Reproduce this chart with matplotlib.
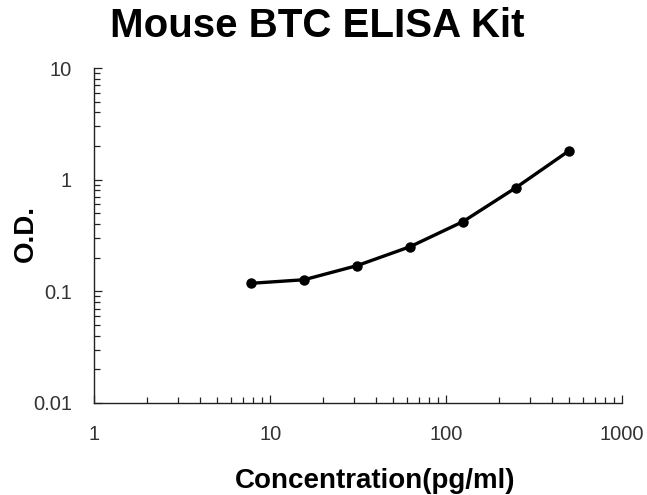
import matplotlib
matplotlib.use("Agg")
import matplotlib.pyplot as plt
from matplotlib.ticker import LogLocator, FixedLocator, FixedFormatter, NullFormatter

# standard curve
conc = [7.8, 15.6, 31.25, 62.5, 125, 250, 500]
od = [0.118, 0.127, 0.170, 0.251, 0.421, 0.848, 1.81]

x_ticks = [1, 10, 100, 1000]
x_labels = ["1", "10", "100", "1000"]
y_ticks = [0.01, 0.1, 1, 10]
y_labels = ["0.01", "0.1", "1", "10"]

plt.rcParams['font.family'] = ['Liberation Sans', 'DejaVu Sans']

fig = plt.figure(figsize=(6.47, 4.95), dpi=100)
ax = fig.add_axes([0.1458, 0.1859, 0.8152, 0.6767])

ax.plot(conc, od, color='black', linewidth=2.4, marker='o', markersize=6.5,
        solid_capstyle='round')

ax.set_xscale('log')
ax.set_yscale('log')
ax.set_xlim(1, 1000)
ax.set_ylim(0.01, 10)

ax.xaxis.set_major_locator(FixedLocator(x_ticks))
ax.xaxis.set_major_formatter(FixedFormatter(x_labels))
ax.yaxis.set_major_locator(FixedLocator(y_ticks))
ax.yaxis.set_major_formatter(FixedFormatter(y_labels))
ax.xaxis.set_minor_locator(LogLocator(base=10, subs=range(2, 10)))
ax.yaxis.set_minor_locator(LogLocator(base=10, subs=range(2, 10)))
ax.xaxis.set_minor_formatter(NullFormatter())
ax.yaxis.set_minor_formatter(NullFormatter())

for side in ['top', 'right']:
    ax.spines[side].set_visible(False)
for side in ['left', 'bottom']:
    ax.spines[side].set_linewidth(1.0)
    ax.spines[side].set_color('#222222')

ax.tick_params(axis='both', which='major', direction='in', length=6, width=0.9,
               labelsize=14.5, labelcolor='#333333', color='#222222')
ax.tick_params(axis='both', which='minor', direction='in', length=4, width=0.9,
               color='#222222')
ax.tick_params(axis='x', which='major', pad=16)
ax.tick_params(axis='y', which='major', pad=16)

ax.set_xlabel('Concentration(pg/ml)', fontsize=20, fontweight='bold')
ax.xaxis.set_label_coords(0.533, -0.233)
ax.xaxis.label.set_va('center')
ax.set_ylabel('O.D.', fontsize=20, fontweight='bold')
ax.yaxis.set_label_coords(-0.129, 0.505)
ax.yaxis.label.set_va('center')
fig.text(0.491, 0.947, 'Mouse BTC ELISA Kit', fontsize=29, fontweight='bold',
         ha='center', va='center')

fig.savefig('out.png', dpi=100)
